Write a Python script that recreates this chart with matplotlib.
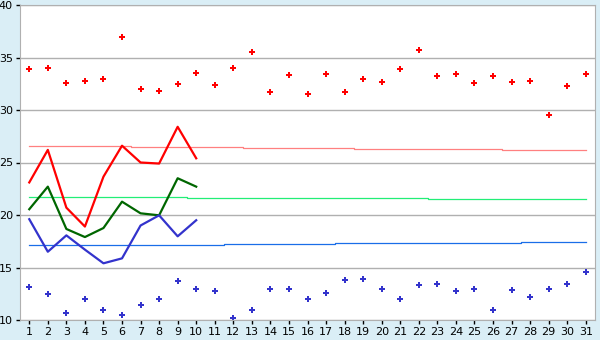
import numpy as np
import matplotlib
matplotlib.use("Agg")
import matplotlib.pyplot as plt

# days of the month
days = list(range(1, 32))

# daily max / min (points)
tmax = [33.9, 34.0, 32.6, 32.8, 33.0, 37.0, 32.0, 31.8, 32.5, 33.5,
        32.35, 34.0, 35.5, 31.7, 33.3, 31.5, 33.4, 31.7, 33.0, 32.7,
        33.9, 35.7, 33.2, 33.4, 32.6, 33.2, 32.7, 32.8, 29.5, 32.25, 33.4]
tmin = [13.1, 12.45, 10.7, 12.0, 11.0, 10.45, 11.4, 12.0, 13.7, 13.0,
        12.8, 10.2, 11.0, 13.0, 13.0, 12.0, 12.6, 13.8, 13.9, 13.0,
        12.0, 13.3, 13.4, 12.8, 13.0, 11.0, 12.9, 12.15, 13.0, 13.4, 14.6]

# current values (first 10 days)
cur_days = days[:10]
cur_max = [23.1, 26.2, 20.7, 18.9, 23.65, 26.6, 25.0, 24.9, 28.4, 25.4]
cur_mean = [20.55, 22.7, 18.67, 17.9, 18.76, 21.27, 20.16, 19.97, 23.5, 22.7]
cur_min = [19.6, 16.5, 18.06, 16.7, 15.4, 15.87, 19.0, 19.97, 17.97, 19.5]

# normals
norm_max = [26.57] * 6 + [26.48] * 6 + [26.38] * 6 + [26.29] * 8 + [26.19] * 5
norm_mean = [21.71] * 9 + [21.62] * 13 + [21.52] * 9
norm_min = [17.14] * 11 + [17.24] * 6 + [17.33] * 10 + [17.43] * 4

fig = plt.figure(figsize=(6, 3.4), dpi=100, facecolor="#daeef6")
ax = fig.add_axes([20/600, 20/340, 575/600, 315/340])
ax.set_facecolor("white")

ax.plot(days, norm_max, color="#ff8080", lw=0.9, drawstyle="steps-mid")
ax.plot(days, norm_mean, color="#22ee77", lw=0.9, drawstyle="steps-mid")
ax.plot(days, norm_min, color="#1a6ee8", lw=0.9, drawstyle="steps-mid")

ax.plot(cur_days, cur_max, color="#ff0000", lw=1.6)
ax.plot(cur_days, cur_mean, color="#006600", lw=1.6)
ax.plot(cur_days, cur_min, color="#3333cc", lw=1.6)

ax.plot(days, tmax, ls="none", marker="P", ms=4.5, color="#ff0000", mew=0)
ax.plot(days, tmin, ls="none", marker="P", ms=4.5, color="#3333cc", mew=0)

ax.set_xlim(0.5, 31.5)
ax.set_ylim(10, 40)
ax.set_xticks(days)
ax.set_yticks(range(10, 41, 5))
ax.yaxis.grid(True, color="#b0b0b0", lw=1)
ax.set_axisbelow(True)
for s in ["left", "right", "top"]:
    ax.spines[s].set_color("#b0b0b0")
ax.spines["bottom"].set_color("#b0b0b0")
ax.tick_params(axis="both", length=3, width=1, color="black", labelsize=8, pad=2)

fig.savefig("out.png", dpi=100, facecolor=fig.get_facecolor())
